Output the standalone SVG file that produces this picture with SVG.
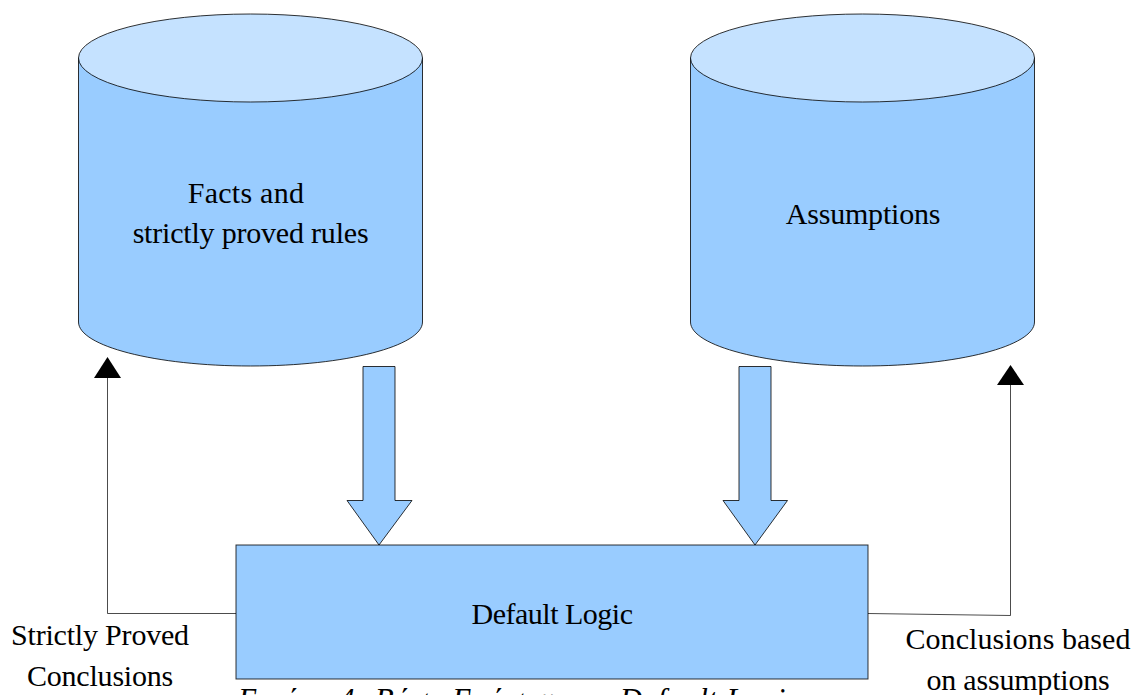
<svg xmlns="http://www.w3.org/2000/svg" width="1136" height="695" viewBox="0 0 1136 695">
<style>
.s{fill:#99ccff;stroke:#000;stroke-width:1;stroke-opacity:.8}
.t{fill:#c5e2ff;stroke:#000;stroke-width:1;stroke-opacity:.8}
.c{fill:none;stroke:#000;stroke-width:1;stroke-opacity:.7}
text{font-family:"Liberation Serif","Times New Roman",serif;font-size:30px;fill:#000;text-anchor:middle;letter-spacing:-.2px}
#caption{font-style:italic;font-size:31px;text-anchor:start;letter-spacing:0}
</style>
<rect width="1136" height="695" fill="#fff"/>
<g id="connectors">
<path class="c" d="M236 613.500H107.500V378"/>
<path class="c" d="M868 613.500L1010.500 615.500V385"/>
<path d="M107.500 357L94 378H121Z"/>
<path d="M1010.500 365L997 385H1024Z"/>
</g>
<g id="facts">
<path class="s" d="M78.500 58V322C78.500 346 155 366 250.500 366S422.500 346 422.500 322V58Z"/>
<ellipse class="t" cx="250.500" cy="58" rx="172" ry="44"/>
<text x="246" y="203" style="letter-spacing:.25px">Facts and</text><text x="250.500" y="243">strictly proved rules</text>
</g>
<g id="assumptions">
<path class="s" d="M690.500 58V322C690.500 346 767 366 862.500 366S1034.500 346 1034.500 322V58Z"/>
<ellipse class="t" cx="862.500" cy="58" rx="172" ry="44"/>
<text x="863" y="224">Assumptions</text>
</g>
<g id="arrow-left"><path class="s" d="M363 366.500H395V500.500H412L379 545L347 500.500H363Z"/></g>
<g id="arrow-right"><path class="s" d="M739 366.500H771V500.500H787.500L755 545L723 500.500H739Z"/></g>
<g id="default-logic">
<rect class="s" x="236" y="545" width="632" height="134"/>
<text x="552" y="624" style="letter-spacing:-.5px">Default Logic</text>
</g>
<g id="label-left"><text x="100" y="645">Strictly Proved</text><text x="100" y="686">Conclusions</text></g>
<g id="label-right"><text x="1018" y="649" style="letter-spacing:.05px">Conclusions based</text><text x="1018" y="690">on assumptions</text></g>
<text id="caption" x="238" y="710" textLength="562" lengthAdjust="spacing">Εικόνα 4: Βάση Γνώσεων με Default Logic</text>
</svg>
